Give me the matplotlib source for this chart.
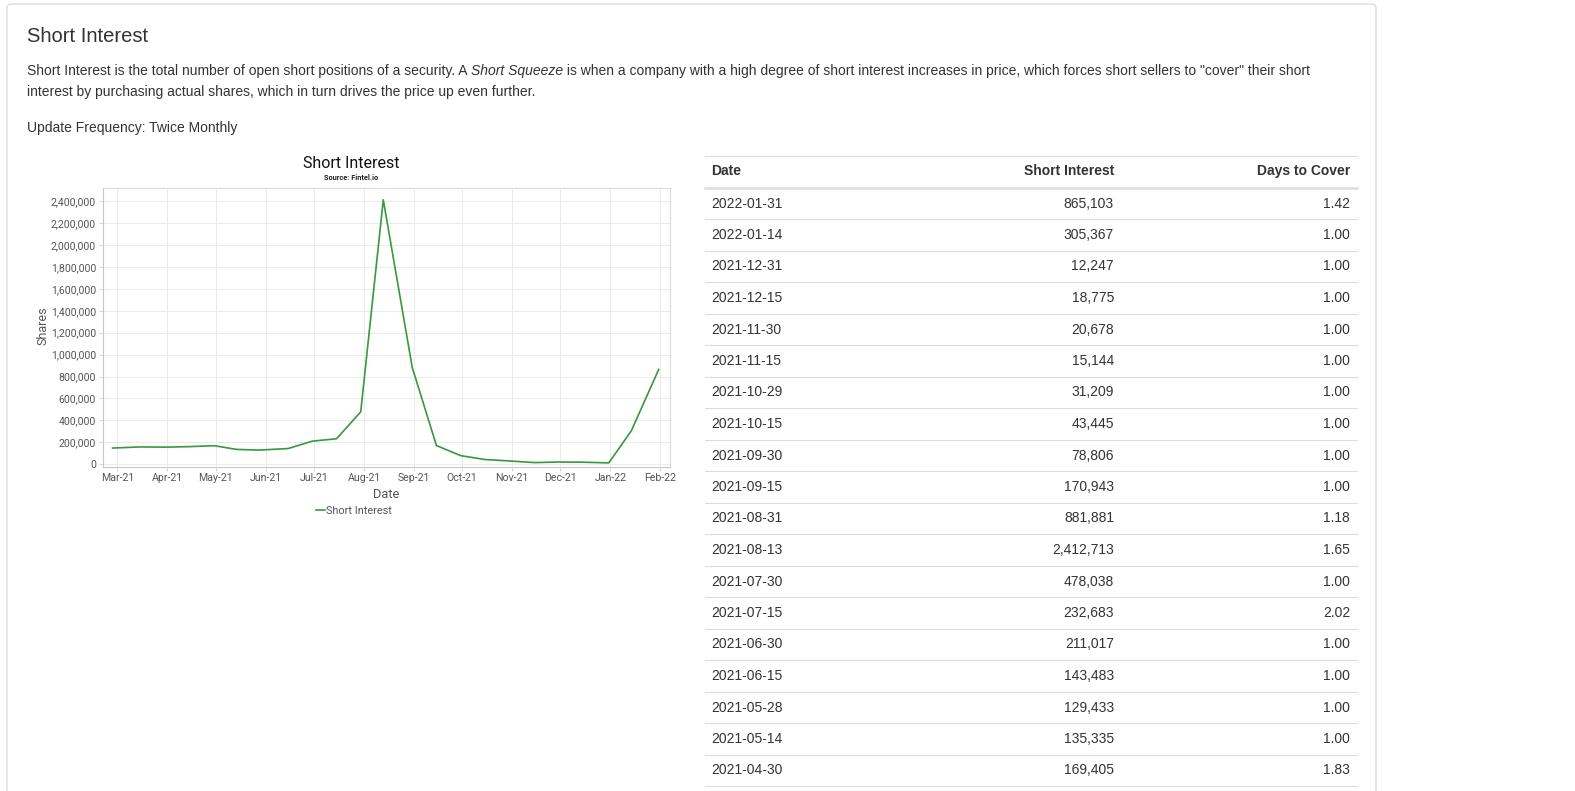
import datetime as dt
import matplotlib
matplotlib.use('Agg')
import matplotlib.pyplot as plt
import matplotlib.dates as mdates
from matplotlib.lines import Line2D
from matplotlib.patches import FancyBboxPatch
from matplotlib.ticker import FuncFormatter, MultipleLocator

W, H = 1575, 791

# chart series (first four points, rest from the table)
chart_dates = ['2021-02-26', '2021-03-15', '2021-03-31', '2021-04-15', '2021-04-30',
               '2021-05-14', '2021-05-28', '2021-06-15', '2021-06-30', '2021-07-15',
               '2021-07-30', '2021-08-13', '2021-08-31', '2021-09-15', '2021-09-30',
               '2021-10-15', '2021-10-29', '2021-11-15', '2021-11-30', '2021-12-15',
               '2021-12-31', '2022-01-14', '2022-01-31']
chart_values = [148000, 158000, 156000, 161000, 169405,
                135335, 129433, 143483, 211017, 232683,
                478038, 2412713, 881881, 170943, 78806,
                43445, 31209, 15144, 20678, 18775,
                12247, 305367, 865103]

# table rows
table_dates = ['2022-01-31', '2022-01-14', '2021-12-31', '2021-12-15', '2021-11-30',
               '2021-11-15', '2021-10-29', '2021-10-15', '2021-09-30', '2021-09-15',
               '2021-08-31', '2021-08-13', '2021-07-30', '2021-07-15', '2021-06-30',
               '2021-06-15', '2021-05-28', '2021-05-14', '2021-04-30']
table_short = [865103, 305367, 12247, 18775, 20678, 15144, 31209, 43445, 78806, 170943,
               881881, 2412713, 478038, 232683, 211017, 143483, 129433, 135335, 169405]
table_days = [1.42, 1.00, 1.00, 1.00, 1.00, 1.00, 1.00, 1.00, 1.00, 1.00,
              1.18, 1.65, 1.00, 2.02, 1.00, 1.00, 1.00, 1.00, 1.83]

TXT = '#333333'
AXTXT = '#555555'
PAGE_FONT = ['Liberation Sans', 'DejaVu Sans']
CHART_FONT = ['Roboto', 'DejaVu Sans']


def fx(x):
    return x / W


def fy(y):
    return 1 - y / H


fig = plt.figure(figsize=(W / 100, H / 100), dpi=100)
fig.patch.set_facecolor('white')

# card outline, kept behind the chart axes
card = FancyBboxPatch((fx(7), fy(820)), fx(1376) - fx(7), fy(4) - fy(820),
                      boxstyle='round,pad=0,rounding_size=0.004',
                      transform=fig.transFigure, facecolor='white',
                      edgecolor='#dddddd', linewidth=1, zorder=-5)
fig.patches.append(card)

# heading and description
fig.text(fx(27), fy(37), 'Short Interest', fontsize=14.5, color=TXT,
         family=PAGE_FONT, va='center', ha='left')

renderer = fig.canvas.get_renderer()


def run_text(x, y, parts):
    # draw pieces of text one after the other on the same line
    for s, style in parts:
        t = fig.text(fx(x), fy(y), s, fontsize=10, color=TXT, family=PAGE_FONT,
                     style=style, va='center', ha='left')
        x += t.get_window_extent(renderer).width


run_text(27, 71, [('Short Interest is the total number of open short positions of a security. A ', 'normal'),
                  ('Short Squeeze', 'italic'),
                  (' is when a company with a high degree of short interest increases in price, '
                   'which forces short sellers to "cover" their short', 'normal')])
run_text(27, 92, [('interest by purchasing actual shares, which in turn drives the price up even further.', 'normal')])
run_text(27, 128, [('Update Frequency: Twice Monthly', 'normal')])

# chart
AX_L, AX_R, AX_T, AX_B = 103, 670, 188, 467
ax = fig.add_axes([fx(AX_L), fy(AX_B), (AX_R - AX_L) / W, (AX_B - AX_T) / H])
ax.set_facecolor('white')
x = [dt.datetime.strptime(d, '%Y-%m-%d') for d in chart_dates]
ax.plot(x, chart_values, color='#3a963f', linewidth=1.2, label='Short Interest')
ax.set_xlim(dt.datetime(2021, 2, 20), dt.datetime(2022, 2, 7))
ax.set_ylim(-25000, 2520000)
ax.xaxis.set_major_locator(mdates.MonthLocator())
ax.xaxis.set_major_formatter(mdates.DateFormatter('%b-%y'))
ax.yaxis.set_major_locator(MultipleLocator(200000))
ax.yaxis.set_major_formatter(FuncFormatter(lambda v, p: f'{int(v):,}'))
ax.grid(True, color='#ebebeb', linewidth=0.7)
ax.set_axisbelow(True)
for sp in ax.spines.values():
    sp.set_color('#dcdcdc')
    sp.set_linewidth(0.8)
ax.spines['left'].set_color('#c8c8c8')
ax.spines['bottom'].set_color('#c8c8c8')
ax.tick_params(axis='both', colors='#d0d0d0', length=3, width=0.6, labelsize=7.6,
               labelcolor=AXTXT)
ax.tick_params(axis='y', pad=2)
ax.tick_params(axis='x', pad=1)
for lab in ax.get_xticklabels() + ax.get_yticklabels():
    lab.set_family(CHART_FONT)
ax.set_xlabel('Date', fontsize=9.3, color=AXTXT, family=CHART_FONT)
ax.set_ylabel('Shares', fontsize=9, color=AXTXT, family=CHART_FONT)
ax.xaxis.label.set_va('center')
ax.yaxis.label.set_va('center')
ax.xaxis.set_label_coords(((386 - AX_L) / (AX_R - AX_L)), -(494 - AX_B) / (AX_B - AX_T))
ax.yaxis.set_label_coords(-(AX_L - 43) / (AX_R - AX_L), (AX_B - 326) / (AX_B - AX_T))

fig.text(fx(351), fy(164), 'Short Interest', fontsize=11.5, color='#111111',
         family=CHART_FONT, ha='center', va='center')
fig.text(fx(351), fy(177.5), 'Source: Fintel.io', fontsize=5.3, color='#222222',
         family=CHART_FONT, weight='bold', ha='center', va='center')
fig.legend(loc='center', bbox_to_anchor=(fx(354), fy(511)), frameon=False,
           handlelength=0.8, handletextpad=0.15, prop={'family': CHART_FONT, 'size': 7.8},
           labelcolor=AXTXT)

# table
TL, TR = 705, 1357
fig.add_artist(Line2D([fx(TL), fx(TR)], [fy(156), fy(156)], color='#dddddd', linewidth=0.8))
fig.add_artist(Line2D([fx(TL), fx(TR)], [fy(187.5), fy(187.5)], color='#dddddd', linewidth=1.8))
fig.text(fx(711), fy(171), 'Date', fontsize=10, weight='bold', color=TXT, family=PAGE_FONT,
         ha='left', va='center')
fig.text(fx(1114), fy(171), 'Short Interest', fontsize=10, weight='bold', color=TXT,
         family=PAGE_FONT, ha='right', va='center')
fig.text(fx(1350), fy(171), 'Days to Cover', fontsize=10, weight='bold', color=TXT,
         family=PAGE_FONT, ha='right', va='center')

pitch = 31.5
for i, (d, s, c) in enumerate(zip(table_dates, table_short, table_days)):
    yc = 203.5 + i * pitch
    fig.text(fx(711), fy(yc), d, fontsize=10, color=TXT, family=PAGE_FONT, ha='left', va='center')
    fig.text(fx(1114), fy(yc), f'{s:,}', fontsize=10, color=TXT, family=PAGE_FONT,
             ha='right', va='center')
    fig.text(fx(1350), fy(yc), f'{c:.2f}', fontsize=10, color=TXT, family=PAGE_FONT,
             ha='right', va='center')
    yl = yc + pitch / 2
    fig.add_artist(Line2D([fx(TL), fx(TR)], [fy(yl), fy(yl)], color='#dddddd', linewidth=0.8))

fig.savefig('out.png', dpi=100)
